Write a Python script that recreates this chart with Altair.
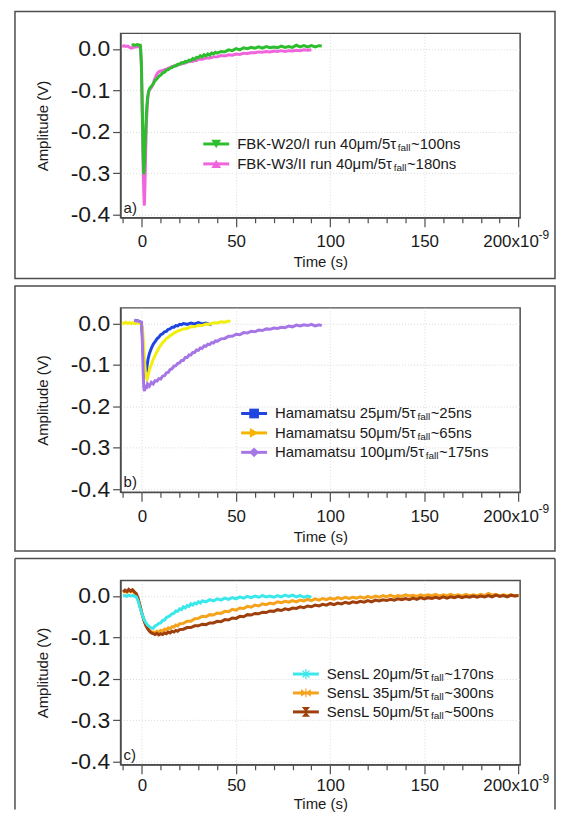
import altair as alt
import pandas as pd

FONT = "Liberation Sans"

# ---------------- data (time in ns, amplitude in V) ----------------
FBK_W20 = [(-5.5,0.009),(-4.5,0.01),(-3.5,0.009),(-2.5,0.011),(-1.5,0.01),(-0.8,0.009),(-0.3,-0.03),(0.2,-0.14),(0.6,-0.24),(1.0,-0.302),(1.4,-0.27),(1.8,-0.22),(2.2,-0.175),(2.6,-0.14),(3.0,-0.118),(3.5,-0.103),(4.0,-0.096),(5,-0.09),(6,-0.084),(7,-0.076),(8,-0.072),(9,-0.066),(10,-0.063),(11,-0.058),(12,-0.056),(13,-0.051),(14,-0.05),(15,-0.046),(16,-0.045),(17,-0.041),(18,-0.041),(19,-0.037),(20,-0.037),(21,-0.033),(22,-0.034),(23,-0.03),(24,-0.031),(25,-0.027),(26,-0.028),(27,-0.023),(28,-0.025),(29,-0.02),(30,-0.021),(31,-0.016),(32,-0.019),(33,-0.014),(34,-0.017),(35,-0.012),(36,-0.015),(37,-0.01),(38,-0.012),(39,-0.008),(40,-0.01),(42,-0.006),(44,-0.007),(46,-0.002),(48,-0.004),(50,0.001),(52,-0.002),(54,0.003),(56,0.001),(58,0.004),(60,0.002),(62,0.005),(64,0.002),(66,0.006),(68,0.003),(70,0.005),(72,0.003),(74,0.007),(76,0.004),(78,0.006),(80,0.004),(82,0.009),(84,0.005),(86,0.008),(88,0.005),(90,0.008),(92,0.005),(94,0.008),(95.5,0.007)]
FBK_W3 = [(-10.5,0.006),(-9.5,0.008),(-8.5,0.006),(-7.5,0.007),(-6.5,0.004),(-5.5,0.002),(-4.5,0.004),(-3.5,0.005),(-2.5,0.006),(-1.5,0.005),(-0.8,0.004),(-0.3,-0.04),(0.2,-0.16),(0.6,-0.27),(1.0,-0.345),(1.3,-0.378),(1.6,-0.33),(2.0,-0.25),(2.4,-0.18),(2.8,-0.14),(3.2,-0.115),(3.7,-0.102),(4.2,-0.097),(5,-0.093),(6,-0.084),(7,-0.07),(8,-0.06),(9,-0.055),(10,-0.053),(11,-0.052),(12,-0.05),(13,-0.049),(14,-0.046),(15,-0.045),(16,-0.042),(17,-0.042),(18,-0.039),(19,-0.039),(20,-0.036),(21,-0.036),(22,-0.033),(23,-0.034),(24,-0.031),(25,-0.031),(26,-0.029),(27,-0.03),(28,-0.027),(29,-0.028),(30,-0.025),(32,-0.025),(34,-0.022),(36,-0.022),(38,-0.019),(40,-0.019),(42,-0.016),(44,-0.017),(46,-0.014),(48,-0.015),(50,-0.012),(52,-0.013),(54,-0.01),(56,-0.011),(58,-0.009),(60,-0.009),(62,-0.007),(64,-0.008),(66,-0.006),(68,-0.007),(70,-0.005),(72,-0.006),(74,-0.004),(76,-0.006),(78,-0.004),(80,-0.005),(82,-0.003),(84,-0.004),(86,-0.002),(88,-0.003),(90,-0.002)]

HAM25 = [(-4,0.008),(-3,0.007),(-2,0.006),(-1,0.004),(-0.3,0.002),(0.3,-0.03),(0.8,-0.08),(1.3,-0.115),(1.8,-0.13),(2.3,-0.12),(2.8,-0.1),(3.3,-0.085),(4,-0.072),(5,-0.06),(6,-0.05),(7,-0.044),(8,-0.037),(9,-0.033),(10,-0.027),(11,-0.025),(12,-0.02),(13,-0.019),(14,-0.014),(15,-0.013),(16,-0.009),(17,-0.009),(18,-0.005),(19,-0.006),(20,-0.002),(21,-0.003),(22,0.0),(24,-0.002),(26,0.001),(28,-0.001),(30,0.002),(32,-0.001),(34,0.001),(36,-0.002),(37,-0.003)]
HAM50 = [(-10.5,0.002),(-9.5,0.0),(-8.5,0.003),(-7.5,0.0),(-6.5,0.002),(-5.5,0.0),(-4.5,0.002),(-3.5,0.0),(-2.5,0.002),(-1.5,0.0),(-0.5,0.001),(0.3,-0.01),(0.8,-0.045),(1.3,-0.085),(1.8,-0.115),(2.3,-0.13),(2.8,-0.134),(3.3,-0.125),(4,-0.112),(5,-0.099),(6,-0.087),(7,-0.077),(8,-0.068),(9,-0.059),(10,-0.053),(11,-0.046),(12,-0.042),(13,-0.036),(14,-0.034),(15,-0.029),(16,-0.027),(17,-0.023),(18,-0.021),(19,-0.018),(20,-0.017),(22,-0.013),(24,-0.012),(26,-0.008),(28,-0.008),(30,-0.004),(32,-0.005),(34,-0.001),(36,-0.002),(38,0.002),(40,0.001),(42,0.004),(44,0.003),(46,0.006),(47,0.005)]
HAM100 = [(-4,0.008),(-3,0.006),(-2,0.006),(-1,0.004),(-0.2,0.003),(0.3,-0.05),(0.7,-0.12),(1.0,-0.155),(1.4,-0.163),(2,-0.148),(2.5,-0.157),(3,-0.146),(4,-0.151),(5,-0.142),(6,-0.146),(7,-0.138),(8,-0.139),(9,-0.133),(10,-0.134),(11,-0.127),(12,-0.126),(13,-0.119),(14,-0.118),(15,-0.111),(16,-0.109),(17,-0.103),(18,-0.102),(19,-0.096),(20,-0.095),(21,-0.089),(22,-0.089),(23,-0.082),(24,-0.082),(25,-0.076),(26,-0.076),(27,-0.07),(28,-0.07),(29,-0.064),(30,-0.065),(31,-0.059),(32,-0.06),(33,-0.054),(34,-0.055),(35,-0.05),(36,-0.051),(37,-0.046),(38,-0.047),(39,-0.042),(40,-0.043),(42,-0.037),(44,-0.036),(46,-0.031),(48,-0.031),(50,-0.026),(52,-0.027),(54,-0.022),(56,-0.023),(58,-0.019),(60,-0.02),(62,-0.016),(64,-0.017),(66,-0.013),(68,-0.014),(70,-0.011),(72,-0.012),(74,-0.009),(76,-0.01),(78,-0.006),(80,-0.008),(82,-0.004),(84,-0.006),(86,-0.003),(88,-0.005),(90,-0.002),(92,-0.006),(94,-0.003),(95.5,-0.005)]

SENSL20 = [(-10,0.0),(-9,0.001),(-8,-0.001),(-7,0.002),(-6,0.0),(-5,0.001),(-4,0.0),(-3,-0.002),(-2,-0.012),(-1,-0.028),(0,-0.042),(1,-0.055),(2,-0.064),(3,-0.07),(4,-0.074),(5,-0.077),(6,-0.078),(7,-0.072),(8,-0.07),(9,-0.066),(10,-0.065),(11,-0.059),(12,-0.058),(13,-0.052),(14,-0.05),(15,-0.047),(16,-0.043),(17,-0.042),(18,-0.036),(19,-0.037),(20,-0.031),(21,-0.033),(22,-0.026),(23,-0.029),(24,-0.023),(25,-0.025),(26,-0.019),(27,-0.022),(28,-0.017),(29,-0.019),(30,-0.014),(31,-0.017),(32,-0.012),(34,-0.014),(36,-0.009),(38,-0.012),(40,-0.007),(42,-0.01),(44,-0.005),(46,-0.008),(48,-0.004),(50,-0.007),(52,-0.002),(54,-0.005),(56,-0.001),(58,-0.004),(60,0.0),(62,-0.003),(64,0.001),(66,-0.002),(68,0.0),(70,-0.003),(72,0.001),(74,-0.002),(76,0.002),(78,-0.001),(80,0.002),(82,-0.002),(84,0.001),(86,-0.003),(88,0.0),(90,-0.003)]
SENSL35 = [(-10,0.008),(-9,0.012),(-8,0.009),(-7,0.013),(-6,0.01),(-5,0.012),(-4,0.008),(-3,0.005),(-2,-0.008),(-1,-0.025),(0,-0.042),(1,-0.056),(2,-0.068),(3,-0.076),(4,-0.082),(5,-0.086),(6,-0.087),(7,-0.088),(8,-0.085),(9,-0.087),(10,-0.083),(11,-0.085),(12,-0.08),(13,-0.082),(14,-0.077),(15,-0.079),(16,-0.074),(17,-0.075),(18,-0.07),(19,-0.072),(20,-0.067),(22,-0.066),(24,-0.061),(26,-0.061),(28,-0.055),(30,-0.054),(32,-0.049),(34,-0.05),(36,-0.045),(38,-0.046),(40,-0.041),(42,-0.042),(44,-0.037),(46,-0.038),(48,-0.032),(50,-0.034),(52,-0.029),(54,-0.03),(56,-0.025),(58,-0.027),(60,-0.022),(62,-0.024),(64,-0.019),(66,-0.021),(68,-0.017),(70,-0.019),(72,-0.014),(74,-0.016),(76,-0.013),(78,-0.015),(80,-0.011),(82,-0.014),(84,-0.01),(86,-0.012),(88,-0.008),(90,-0.011),(92,-0.007),(94,-0.01),(96,-0.006),(98,-0.009),(100,-0.005),(102,-0.008),(104,-0.004),(106,-0.007),(108,-0.003),(110,-0.006),(112,-0.003),(114,-0.005),(116,-0.002),(118,-0.005),(120,-0.001),(122,-0.004),(124,0.0),(126,-0.003),(128,0.001),(130,-0.002),(132,0.002),(134,-0.002),(136,0.001),(138,-0.001),(140,0.003),(142,0.0),(144,0.002),(146,-0.001),(148,0.003),(150,0.0),(152,0.003),(154,0.001),(156,0.004),(158,0.0),(160,0.003),(162,0.001),(164,0.004),(166,0.001),(168,0.003),(170,0.0),(172,0.004),(174,0.001),(176,0.003),(178,0.001),(180,0.004),(182,0.001),(184,0.006),(186,0.002),(188,0.004),(190,0.0),(192,0.003),(194,0.001),(196,0.003),(198,0.0),(200,0.002)]
SENSL50 = [(-10,0.01),(-9,0.014),(-8,0.011),(-7,0.016),(-6,0.012),(-5,0.015),(-4,0.01),(-3,0.006),(-2,-0.006),(-1,-0.024),(0,-0.042),(1,-0.058),(2,-0.07),(3,-0.079),(4,-0.085),(5,-0.089),(6,-0.091),(7,-0.093),(8,-0.09),(9,-0.094),(10,-0.091),(11,-0.093),(12,-0.089),(13,-0.091),(14,-0.087),(15,-0.089),(16,-0.085),(17,-0.087),(18,-0.083),(19,-0.085),(20,-0.081),(22,-0.08),(24,-0.076),(26,-0.076),(28,-0.072),(30,-0.072),(32,-0.068),(34,-0.069),(36,-0.065),(38,-0.065),(40,-0.061),(42,-0.062),(44,-0.057),(46,-0.058),(48,-0.053),(50,-0.054),(52,-0.049),(54,-0.05),(56,-0.045),(58,-0.046),(60,-0.042),(62,-0.043),(64,-0.039),(66,-0.04),(68,-0.036),(70,-0.037),(72,-0.033),(74,-0.035),(76,-0.031),(78,-0.033),(80,-0.029),(82,-0.03),(84,-0.026),(86,-0.028),(88,-0.024),(90,-0.026),(92,-0.022),(94,-0.024),(96,-0.02),(98,-0.022),(100,-0.018),(102,-0.021),(104,-0.017),(106,-0.019),(108,-0.015),(110,-0.018),(112,-0.014),(114,-0.016),(116,-0.013),(118,-0.015),(120,-0.011),(122,-0.014),(124,-0.01),(126,-0.012),(128,-0.009),(130,-0.011),(132,-0.008),(134,-0.01),(136,-0.007),(138,-0.009),(140,-0.006),(142,-0.009),(144,-0.005),(146,-0.008),(148,-0.004),(150,-0.007),(152,-0.004),(154,-0.006),(156,-0.003),(158,-0.006),(160,-0.002),(162,-0.005),(164,-0.002),(166,-0.004),(168,-0.001),(170,-0.004),(172,-0.001),(174,-0.003),(176,0.0),(178,-0.003),(180,0.0),(182,-0.002),(184,0.001),(186,-0.002),(188,0.002),(190,-0.001),(192,0.001),(194,-0.002),(196,0.002),(198,0.0),(200,0.001)]

X_TICKS = [-10, 0, 10, 20, 30, 40, 50, 60, 70, 80, 90, 100, 110, 120, 130, 140, 150, 160, 170, 180, 190, 200]
Y_TICKS = [0.0, -0.1, -0.2, -0.3, -0.4]
T_DOMAIN = [-11.32, 200.85]
A_DOMAIN = [-0.407, 0.0377]

PANEL_A = [
    ("FBK-W20/I", "#2dbe2d", "triangle-down", "FBK-W20/I run 40μm/5τ", "~100ns", FBK_W20),
    ("FBK-W3/II", "#f065dc", "triangle-up", "FBK-W3/II run 40μm/5τ", "~180ns", FBK_W3),
]
PANEL_B = [
    ("H25", "#1f45e0", "square", "Hamamatsu 25μm/5τ", "~25ns", HAM25),
    ("H50", "#f7b500", "triangle-right", "Hamamatsu 50μm/5τ", "~65ns", HAM50),
    ("H100", "#a676e6", "diamond", "Hamamatsu 100μm/5τ", "~175ns", HAM100),
]
PANEL_C = [
    ("S20", "#3ae8ec", "asterisk", "SensL 20μm/5τ", "~170ns", SENSL20),
    ("S35", "#f5a21c", "bowtie", "SensL 35μm/5τ", "~300ns", SENSL35),
    ("S50", "#9e3f0c", "hourglass", "SensL 50μm/5τ", "~500ns", SENSL50),
]
LINE_COLOURS = {"H50": "#f2ee10"}

# ---------------- layout / style ----------------
W, H = 401, 185
AX = "#4d4d4d"
TXT = "#1a1a1a"
LEG_FS = 15
SUB_FS = 10
FRAME_L, FRAME_R = -106, 436
SHAPES = {
    "asterisk": "M-1,-0.13H1V0.13H-1Z M-0.13,-1H0.13V1H-0.13Z M-0.8,-0.62L-0.62,-0.8L0.8,0.62L0.62,0.8Z M-0.8,0.62L0.62,-0.8L0.8,-0.62L-0.62,0.8Z",
    "bowtie": "M-1,-0.8L0,0L-1,0.8Z M1,-0.8L1,0.8L0,0Z M-0.12,-0.9H0.12V0.9H-0.12Z",
    "hourglass": "M-0.85,-1L0.85,-1L0,0Z M0.85,1L-0.85,1L0,0Z",
}
ADV = {' ': 278, '-': 333, '/': 278, '~': 584, 'μ': 576, 'τ': 470, 'F': 611, 'B': 667,
       'K': 667, 'W': 944, 'I': 278, 'H': 722, 'S': 667, 'L': 556, 'a': 556, 'e': 556,
       'f': 278, 'h': 556, 'i': 222, 'l': 222, 'm': 833, 'n': 556, 'r': 333, 's': 500,
       't': 278, 'u': 556}


def text_w(s, fs):
    return sum(ADV.get(c, 556) for c in s) * fs / 1000.0


def px_t(px):
    return T_DOMAIN[0] + px * (T_DOMAIN[1] - T_DOMAIN[0]) / W


def px_a(py):
    return A_DOMAIN[1] - py * (A_DOMAIN[1] - A_DOMAIN[0]) / H


XS = alt.Scale(domain=T_DOMAIN, nice=False, zero=False)
YS = alt.Scale(domain=A_DOMAIN, nice=False, zero=False)


def x_axis(title_pad, label_pad):
    return alt.Axis(
        values=X_TICKS, title="Time (s)", titleFontSize=15, titleFontWeight="normal",
        titlePadding=title_pad, titleColor=TXT,
        labelExpr="datum.value % 50 === 0 ? (datum.value === 200 ? '200x10' : datum.label) : ''",
        labelFontSize=17, labelPadding=label_pad, labelOverlap=False, labelFlush=False, labelColor=TXT,
        labelOffset={"condition": {"test": "datum.value === 200", "value": -8}, "value": 0},
        tickSize={"condition": {"test": "datum.value % 50 === 0", "value": 9}, "value": 5},
        grid=True,
        gridOpacity={"condition": {"test": "datum.value % 50 === 0 && datum.value < 200", "value": 1}, "value": 0},
    )


YAXIS = alt.Axis(
    values=Y_TICKS, title="Amplitude (V)", titleFontSize=15, titleFontWeight="normal",
    titlePadding=20, titleColor=TXT,
    labelExpr="datum.value === 0 ? '0.0' : '-' + format(-datum.value, '.1f')",
    labelFontSize=23, labelPadding=3, tickSize=8, labelColor=TXT, grid=True,
)


def make_panel(entries, tag, leg_top, leg_gap, leg_x, order, frame_bottom,
               title_pad=5, label_pad=7, open_bottom=False):
    xax = x_axis(title_pad, label_pad)

    def X(field):
        return alt.X(f"{field}:Q", scale=XS, axis=xax)

    def Y(field):
        return alt.Y(f"{field}:Q", scale=YS, axis=YAXIS)

    layers = []
    one = pd.DataFrame({"a": [0]})
    if open_bottom:
        for xv in (FRAME_L, FRAME_R):
            layers.append(alt.Chart(one).mark_rule(color=AX, strokeWidth=1.5).encode(
                x=alt.value(xv), y=alt.value(-22), y2=alt.value(frame_bottom)))
        layers.append(alt.Chart(one).mark_rule(color=AX, strokeWidth=1.5).encode(
            x=alt.value(FRAME_L), x2=alt.value(FRAME_R), y=alt.value(-22)))
    else:
        layers.append(alt.Chart(one).mark_rect(filled=False, stroke=AX, strokeWidth=1.5).encode(
            x=alt.value(FRAME_L), x2=alt.value(FRAME_R), y=alt.value(-22), y2=alt.value(frame_bottom)))

    for i in order:
        name, col, shp, pre, post, series = entries[i]
        df = pd.DataFrame(series, columns=["t", "v"])
        layers.append(alt.Chart(df).mark_line(color=LINE_COLOURS.get(name, col), strokeWidth=3).encode(
            x=X("t"), y=Y("v")))

    rows = []
    for i, (name, col, shp, pre, post, series) in enumerate(entries):
        ry = leg_top + i * leg_gap
        xs = leg_x + 34 + text_w(pre, LEG_FS) + 0.5
        xp = xs + text_w("fall", SUB_FS) + 0.5
        rows.append({
            "t1": px_t(leg_x), "t2": px_t(leg_x + 26), "tm": px_t(leg_x + 13),
            "ty": px_a(ry), "tys": px_a(ry + 4), "col": col,
            "shape": SHAPES.get(shp, shp), "pre": pre, "sub": "fall", "post": post,
            "tpre": px_t(leg_x + 34), "tsub": px_t(xs), "tpost": px_t(xp),
        })
    leg = pd.DataFrame(rows)
    layers.append(alt.Chart(leg).mark_rule(strokeWidth=3).encode(
        x=X("t1"), x2="t2", y=Y("ty"), color=alt.Color("col:N", scale=None)))
    layers.append(alt.Chart(leg).mark_point(filled=True, size=95, opacity=1).encode(
        x=X("tm"), y=Y("ty"), shape=alt.Shape("shape:N", scale=None),
        color=alt.Color("col:N", scale=None)))
    layers.append(alt.Chart(leg).mark_text(align="left", baseline="middle", fontSize=LEG_FS, color=TXT).encode(
        x=X("tpre"), y=Y("ty"), text="pre:N"))
    layers.append(alt.Chart(leg).mark_text(align="left", baseline="middle", fontSize=SUB_FS, color=TXT).encode(
        x=X("tsub"), y=Y("tys"), text="sub:N"))
    layers.append(alt.Chart(leg).mark_text(align="left", baseline="middle", fontSize=LEG_FS, color=TXT).encode(
        x=X("tpost"), y=Y("ty"), text="post:N"))

    lab = pd.DataFrame({"t": [T_DOMAIN[0]], "a": [A_DOMAIN[0]], "txt": [tag]})
    layers.append(alt.Chart(lab).mark_text(align="left", baseline="bottom", fontSize=15, dx=3, dy=-2, color=TXT).encode(
        x=X("t"), y=Y("a"), text="txt:N"))

    sup = pd.DataFrame({"t": [200], "txt": ["-9"]})
    layers.append(alt.Chart(sup).mark_text(align="left", baseline="middle", fontSize=12, dx=20, color=TXT).encode(
        x=X("t"), y=alt.value(H + 17 + label_pad - 7), text="txt:N"))

    return alt.layer(*layers).properties(width=W, height=H)


pa = make_panel(PANEL_A, "a)", 111, 20, 83, order=[1, 0], frame_bottom=246)
pb = make_panel(PANEL_B, "b)", 106, 19.5, 121, order=[0, 1, 2], frame_bottom=244)
pc = make_panel(PANEL_C, "c)", 94, 19, 173, order=[1, 2, 0], frame_bottom=230,
                title_pad=3, label_pad=4, open_bottom=True)

chart = alt.vconcat(pa, pb, pc, spacing=3.5).properties(
    padding={"left": 5, "top": 0, "right": 0, "bottom": 0}
).configure(font=FONT).configure_view(
    stroke=AX, strokeWidth=1.5
).configure_axis(
    domainColor=AX, tickColor=AX, domainWidth=1.2, tickWidth=1.2,
    gridColor="#d9d9d9", gridDash=[1, 2], gridWidth=1,
    labelFont=FONT, titleFont=FONT,
)

chart.save("out.html", embed_options={"renderer": "svg", "actions": False})
